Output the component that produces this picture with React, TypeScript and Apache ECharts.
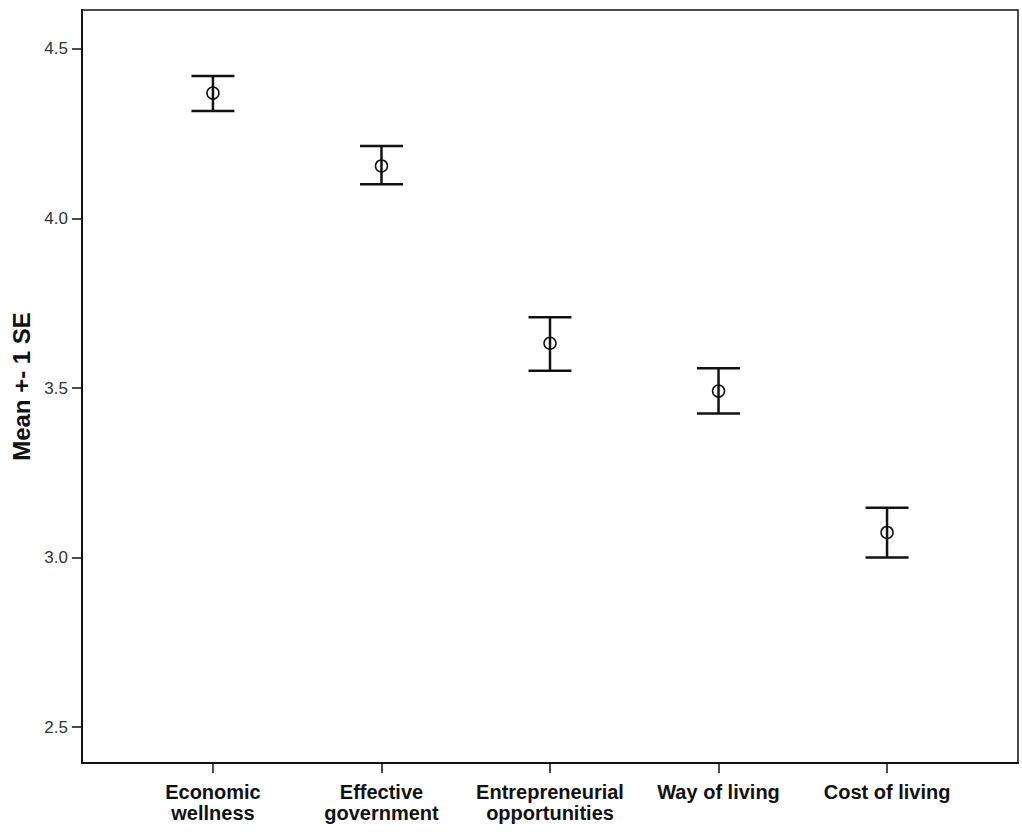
import React, { useEffect, useRef } from "react";
import * as echarts from "echarts";

// Group labels along the x axis
const categories = [
  "Economic\nwellness",
  "Effective\ngovernment",
  "Entrepreneurial\nopportunities",
  "Way of living",
  "Cost of living",
];

// Mean and the mean ± 1 SE bounds for each group
const means = [4.37, 4.155, 3.632, 3.491, 3.074];
const lowers = [4.317, 4.101, 3.551, 3.425, 3.0];
const uppers = [4.42, 4.214, 3.709, 3.558, 3.147];

// Labelled y ticks
const yTicks = [2.5, 3.0, 3.5, 4.0, 4.5];

const FONT = "'Liberation Sans', Arial, Helvetica, sans-serif";

export default function App() {
  const ref = useRef<HTMLDivElement>(null);

  useEffect(() => {
    if (!ref.current) return;
    const chart = echarts.init(ref.current, undefined, { renderer: "svg" });
    const idx = categories.map((_, i) => i);
    const data = categories.map((_, i) => [i, means[i], lowers[i], uppers[i]]);

    chart.setOption({
      animation: false,
      backgroundColor: "#ffffff",
      grid: {
        left: 82,
        right: 4,
        top: 10,
        bottom: 71,
        show: true,
        borderColor: "#111",
        borderWidth: 1.5,
        backgroundColor: "transparent",
      },
      xAxis: {
        type: "value",
        min: -0.777,
        max: 4.777,
        splitLine: { show: false },
        axisLine: { show: true, onZero: false, lineStyle: { color: "#111", width: 2 } },
        axisTick: {
          show: true,
          inside: false,
          length: 10,
          customValues: idx,
          lineStyle: { color: "#111", width: 1.5 },
        },
        axisLabel: {
          customValues: idx,
          formatter: (v: number) => categories[Math.round(v)] ?? "",
          margin: 18,
          fontFamily: FONT,
          fontWeight: "bold",
          fontSize: 20,
          lineHeight: 21,
          color: "#111",
        },
      },
      yAxis: {
        type: "value",
        min: 2.394,
        max: 4.615,
        name: "Mean +- 1 SE",
        nameLocation: "middle",
        nameGap: 48,
        nameTextStyle: {
          fontFamily: FONT,
          fontWeight: "bold",
          fontSize: 24,
          color: "#111",
        },
        splitLine: { show: false },
        axisLine: { show: true, onZero: false, lineStyle: { color: "#111", width: 2 } },
        axisTick: {
          show: true,
          inside: false,
          length: 10,
          customValues: yTicks,
          lineStyle: { color: "#111", width: 1.5 },
        },
        axisLabel: {
          customValues: yTicks,
          formatter: (v: number) => v.toFixed(1),
          margin: 14,
          fontFamily: FONT,
          fontSize: 17,
          color: "#333",
        },
      },
      series: [
        {
          type: "custom",
          data,
          encode: { x: 0, y: [1, 2, 3] },
          renderItem: (params: any, api: any) => {
            const x = api.value(0);
            const mid = api.coord([x, api.value(1)]);
            const lo = api.coord([x, api.value(2)]);
            const hi = api.coord([x, api.value(3)]);
            const half = 21.5;
            const stroke = { stroke: "#111", lineWidth: 2.5 };
            return {
              type: "group",
              children: [
                { type: "line", shape: { x1: hi[0], y1: hi[1], x2: lo[0], y2: lo[1] }, style: stroke },
                { type: "line", shape: { x1: hi[0] - half, y1: hi[1], x2: hi[0] + half, y2: hi[1] }, style: stroke },
                { type: "line", shape: { x1: lo[0] - half, y1: lo[1], x2: lo[0] + half, y2: lo[1] }, style: stroke },
                {
                  type: "circle",
                  shape: { cx: mid[0], cy: mid[1], r: 6 },
                  style: { fill: "none", stroke: "#111", lineWidth: 1.5 },
                },
              ],
            };
          },
        },
      ],
    });
    return () => chart.dispose();
  }, []);

  return (
    <div
      ref={ref}
      style={{ position: "fixed", left: 0, top: 0, width: 1022, height: 834, background: "#fff" }}
    />
  );
}
